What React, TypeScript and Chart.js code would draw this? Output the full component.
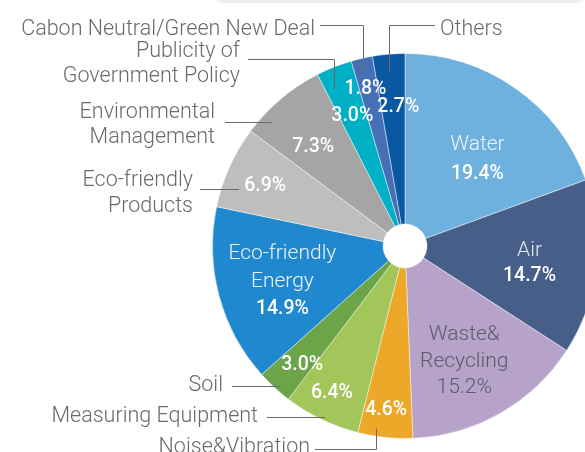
import React, { useEffect, useRef } from "react";
import { Chart, registerables } from "chart.js";

Chart.register(...registerables);

// ---------- data ----------
const categories = [
  "Water",
  "Air",
  "Waste&\nRecycling",
  "Noise&Vibration",
  "Measuring Equipment",
  "Soil",
  "Eco-friendly\nEnergy",
  "Eco-friendly\nProducts",
  "Environmental\nManagement",
  "Publicity of\nGovernment Policy",
  "Cabon Neutral/Green New Deal",
  "Others",
];
const shares = [19.4, 14.7, 15.2, 4.6, 6.4, 3.0, 14.9, 6.9, 7.3, 3.0, 1.8, 2.7];
const percentLabels = shares.map((v) => v.toFixed(1) + "%");

// ---------- styles ----------
const colors = [
  "#6EB1DE",
  "#465E88",
  "#B7A2CA",
  "#EDA82A",
  "#A2C65A",
  "#6BA547",
  "#1F88CE",
  "#BEBEBE",
  "#A5A5A5",
  "#00B0C4",
  "#4570B6",
  "#0A57A2",
];

const FONT = "Roboto, 'Noto Sans', sans-serif";

// inner label placement: radius fraction, angle delta (deg), line height, showName
type Inner = { r: number; d: number; lh: number; name: boolean; nameColor: string; pctColor: string };
const inner: Inner[] = [
  { r: 0.586, d: 5, lh: 30, name: true, nameColor: "#EEF5FB", pctColor: "#FFFFFF" },
  { r: 0.653, d: 1.5, lh: 25.5, name: true, nameColor: "#E2E7EF", pctColor: "#FFFFFF" },
  { r: 0.675, d: 2.6, lh: 26.5, name: true, nameColor: "#5E5A66", pctColor: "#5E5A66" },
  { r: 0.857, d: 0.6, lh: 0, name: false, nameColor: "#fff", pctColor: "#FFFFFF" },
  { r: 0.851, d: 0.7, lh: 0, name: false, nameColor: "#fff", pctColor: "#FFFFFF" },
  { r: 0.816, d: -1.8, lh: 0, name: false, nameColor: "#fff", pctColor: "#FFFFFF" },
  { r: 0.663, d: -1.1, lh: 28, name: true, nameColor: "#EAF3FB", pctColor: "#FFFFFF" },
  { r: 0.79, d: -1.1, lh: 0, name: false, nameColor: "#fff", pctColor: "#FFFFFF" },
  { r: 0.7, d: -2.8, lh: 0, name: false, nameColor: "#fff", pctColor: "#FFFFFF" },
  { r: 0.73, d: -0.4, lh: 0, name: false, nameColor: "#fff", pctColor: "#FFFFFF" },
  { r: 0.84, d: -1.2, lh: 0, name: false, nameColor: "#fff", pctColor: "#FFFFFF" },
  { r: 0.72, d: 2.1, lh: 0, name: false, nameColor: "#fff", pctColor: "#FFFFFF" },
];

// outside labels: text anchor + leader line
type Lead =
  | { kind: "elbow"; x0: number; y0: number; ang: number; r: number }
  | { kind: "h"; x0: number; y0: number; inset: number };
type Outside = { i: number; align: CanvasTextAlign; x: number; y: number; lh: number; lead: Lead };
const outside: Outside[] = [
  { i: 10, align: "right", x: 315, y: 35, lh: 25, lead: { kind: "elbow", x0: 320, y0: 25, ang: 346.5, r: 0.925 } },
  { i: 11, align: "left", x: 440, y: 35, lh: 25, lead: { kind: "elbow", x0: 435, y0: 25, ang: 354.6, r: 0.905 } },
  { i: 9, align: "right", x: 240, y: 57, lh: 25, lead: { kind: "elbow", x0: 248, y0: 59, ang: 335.7, r: 0.895 } },
  { i: 8, align: "right", x: 215, y: 118, lh: 25, lead: { kind: "h", x0: 225, y0: 122, inset: 14 } },
  { i: 7, align: "right", x: 193, y: 186, lh: 26, lead: { kind: "h", x0: 200, y0: 189, inset: 18 } },
  { i: 5, align: "right", x: 223, y: 391, lh: 25, lead: { kind: "h", x0: 232, y0: 386, inset: 8 } },
  { i: 4, align: "right", x: 258, y: 422, lh: 25, lead: { kind: "h", x0: 267, y0: 417, inset: 8 } },
  { i: 3, align: "right", x: 310, y: 453, lh: 25, lead: { kind: "elbow", x0: 315, y0: 449, ang: 188.9, r: 0.96 } },
];

const labelPlugin = {
  id: "pieLabels",
  afterDraw(chart: any) {
    const ctx: CanvasRenderingContext2D = chart.ctx;
    const meta = chart.getDatasetMeta(0);
    const a0 = meta.data[0] as any;
    const cx = a0.x;
    const cy = a0.y;
    const R = a0.outerRadius;
    const polarDeg = (deg: number, frac: number) => {
      const a = ((deg - 90) * Math.PI) / 180;
      return [cx + Math.cos(a) * R * frac, cy + Math.sin(a) * R * frac];
    };
    const polarRad = (rad: number, frac: number) => [cx + Math.cos(rad) * R * frac, cy + Math.sin(rad) * R * frac];

    ctx.save();
    // inner labels
    meta.data.forEach((el: any, i: number) => {
      const cfg = inner[i];
      const mid = (el.startAngle + el.endAngle) / 2 + (cfg.d * Math.PI) / 180;
      const [px, py] = polarRad(mid, cfg.r);
      const lines: { t: string; color: string; font: string }[] = [];
      if (cfg.name) {
        categories[i].split("\n").forEach((t) =>
          lines.push({ t, color: cfg.nameColor, font: `300 21px ${FONT}` })
        );
      }
      lines.push({
        t: percentLabels[i],
        color: cfg.pctColor,
        font: i === 2 ? `300 21px ${FONT}` : `500 19.5px ${FONT}`,
      });
      const n = lines.length;
      ctx.textAlign = "center";
      ctx.textBaseline = "middle";
      lines.forEach((l, k) => {
        ctx.font = l.font;
        ctx.fillStyle = l.color;
        ctx.fillText(l.t, px, py - ((n - 1) / 2) * cfg.lh + k * cfg.lh);
      });
    });

    // outside labels
    ctx.font = `300 21.5px ${FONT}`;
    ctx.fillStyle = "#6A6A6A";
    ctx.textBaseline = "alphabetic";
    outside.forEach((o) => {
      ctx.textAlign = o.align;
      categories[o.i].split("\n").forEach((t, k) => ctx.fillText(t, o.x, o.y + k * o.lh));
      ctx.strokeStyle = "#6A6A6A";
      ctx.lineWidth = 1;
      ctx.beginPath();
      const ly = Math.round(o.lead.y0) + 0.5;
      if (o.lead.kind === "elbow") {
        const [ex, ey] = polarDeg(o.lead.ang, o.lead.r);
        const exr = Math.round(ex) + 0.5;
        ctx.moveTo(o.lead.x0, ly);
        ctx.lineTo(exr, ly);
        ctx.lineTo(exr, ey);
      } else {
        const dy = o.lead.y0 - cy;
        const edge = cx - Math.sqrt(Math.max(R * R - dy * dy, 0));
        ctx.moveTo(o.lead.x0, ly);
        ctx.lineTo(edge + o.lead.inset, ly);
      }
      ctx.stroke();
    });
    ctx.restore();
  },
};

export default function App() {
  const ref = useRef<HTMLCanvasElement>(null);
  useEffect(() => {
    const chart = new Chart(ref.current as HTMLCanvasElement, {
      type: "doughnut",
      data: {
        labels: categories,
        datasets: [
          {
            data: shares,
            backgroundColor: colors,
            borderColor: "rgba(255,255,255,0.45)",
            borderWidth: 1,
          },
        ],
      },
      options: {
        responsive: false,
        animation: false,
        devicePixelRatio: 1,
        cutout: 22,
        layout: { padding: { left: 212, right: 2, top: 53, bottom: 13 } },
        plugins: { legend: { display: false }, tooltip: { enabled: false } },
      } as any,
      plugins: [labelPlugin],
    });
    return () => chart.destroy();
  }, []);
  return (
    <div
      style={{
        position: "fixed",
        left: 0,
        top: 0,
        width: 585,
        height: 452,
        overflow: "hidden",
        background: "#fff",
      }}
    >
      <div
        style={{
          position: "absolute",
          left: 215,
          top: -10,
          width: 369,
          height: 13,
          background: "#EFEFEF",
          borderRadius: 8,
        }}
      />
      <canvas ref={ref} width={600} height={452} style={{ position: "absolute", left: 0, top: 0 }} />
    </div>
  );
}
